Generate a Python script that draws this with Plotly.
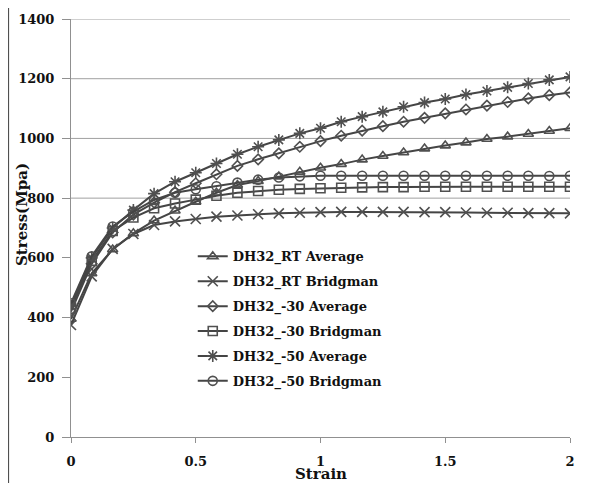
import plotly.graph_objects as go

strain = [0.0, 0.083, 0.167, 0.25, 0.333, 0.417, 0.5, 0.583, 0.667, 0.75, 0.833, 0.917,
          1.0, 1.083, 1.167, 1.25, 1.333, 1.417, 1.5, 1.583, 1.667, 1.75, 1.833, 1.917, 2.0]

rt_average = [395, 548, 628, 682, 725, 758, 788, 818, 844, 857, 872, 888, 902, 914, 929,
              941, 953, 966, 976, 986, 998, 1006, 1015, 1025, 1034]
rt_bridgman = [375, 538, 630, 680, 710, 722, 730, 738, 742, 746, 749, 751, 753, 754, 754,
               754, 754, 753, 753, 752, 751, 751, 750, 750, 749]
m30_average = [420, 580, 685, 745, 785, 820, 850, 880, 908, 930, 950, 972, 991, 1009, 1026,
               1041, 1056, 1069, 1084, 1097, 1110, 1122, 1134, 1145, 1154]
m30_bridgman = [430, 590, 690, 735, 766, 782, 795, 808, 818, 824, 828, 831, 833, 835, 836,
                837, 837, 838, 838, 838, 838, 838, 838, 838, 838]
m50_average = [440, 600, 700, 760, 815, 855, 885, 916, 947, 972, 995, 1017, 1034, 1056, 1073,
               1089, 1106, 1120, 1132, 1147, 1159, 1171, 1184, 1196, 1206]
m50_bridgman = [448, 605, 705, 755, 794, 818, 830, 840, 852, 862, 869, 873, 875, 875, 875,
                875, 875, 875, 875, 875, 875, 875, 875, 874, 875]

series_names = ["DH32_RT Average", "DH32_RT Bridgman", "DH32_-30 Average",
                "DH32_-30 Bridgman", "DH32_-50 Average", "DH32_-50 Bridgman"]
series_values = [rt_average, rt_bridgman, m30_average, m30_bridgman, m50_average, m50_bridgman]
symbols = ["triangle-up-open", "x-thin-open", "diamond-open", "square-open",
           "asterisk-open", "circle-open"]
sizes = [9, 10, 8, 9, 10, 9]

y_ticks = [0, 200, 400, 600, 800, 1000, 1200, 1400]
x_ticks = [0, 0.5, 1, 1.5, 2]
x_tick_text = ["0", "0.5", "1", "1.5", "2"]
grid_values = [800, 1000, 1200, 1400]

FONT = "DejaVu Serif"
LINE = "#454545"

fig = go.Figure()
for i, (name, vals) in enumerate(zip(series_names, series_values)):
    fig.add_trace(go.Scatter(
        x=strain, y=vals, name=name, mode="lines+markers",
        legendgroup=name,
        line=dict(color=LINE, width=2),
        marker=dict(symbol=symbols[i], size=sizes[i], color="#505050",
                    line=dict(color="#505050", width=1.6)),
    ))

PW, PH = 499, 418  # plot area size in px
shapes = []
for g in grid_values:
    shapes.append(dict(type="line", xref="x", yref="y", x0=0, x1=2, y0=g, y1=g,
                       line=dict(color="#a0a0a0", width=1), layer="below"))
# outer frame line at left
shapes.append(dict(type="line", xref="paper", yref="paper",
                   x0=-62.5 / PW, x1=-62.5 / PW, y0=-46 / PH, y1=(418 + 11) / PH,
                   line=dict(color="#505050", width=1.2)))

fig.update_layout(
    width=597, height=475,
    margin=dict(l=63, r=35, t=11, b=46, autoexpand=False),
    paper_bgcolor="white", plot_bgcolor="white",
    font=dict(family=FONT, color="#111111"),
    showlegend=True,
    legend=dict(x=0.244, y=0.468, xanchor="left", yanchor="top",
                bgcolor="rgba(0,0,0,0)", tracegroupgap=5,
                font=dict(family=FONT, size=13, color="#111111", weight="bold")),
    shapes=shapes,
    annotations=[
        dict(text="<b>Stress(Mpa)</b>", xref="paper", yref="paper",
             x=(22 - 71) / PW, y=(437 - 215) / PH, xanchor="center", yanchor="middle",
             textangle=-90, showarrow=False, font=dict(family=FONT, size=15, color="#111111")),
        dict(text="<b>Strain</b>", xref="paper", yref="paper",
             x=0.5, y=(437 - 474) / PH, xanchor="center", yanchor="middle",
             showarrow=False, font=dict(family=FONT, size=15, color="#111111")),
    ],
)

fig.update_xaxes(range=[0, 2], tickvals=x_ticks, ticktext=x_tick_text, automargin=False,
                 showgrid=False, zeroline=False, showline=True, linecolor="#909090",
                 linewidth=1, ticks="outside", ticklen=5, tickcolor="#909090",
                 ticklabelstandoff=7,
                 tickfont=dict(family=FONT, size=13, color="#111111", weight="bold"))
fig.update_yaxes(range=[0, 1400], tickvals=y_ticks, automargin=False,
                 showgrid=False, zeroline=False, showline=True, linecolor="#909090",
                 linewidth=1, ticks="outside", ticklen=8, tickcolor="#909090",
                 ticklabelstandoff=5,
                 tickfont=dict(family=FONT, size=13, color="#111111", weight="bold"))

fig.write_html("out.html")
